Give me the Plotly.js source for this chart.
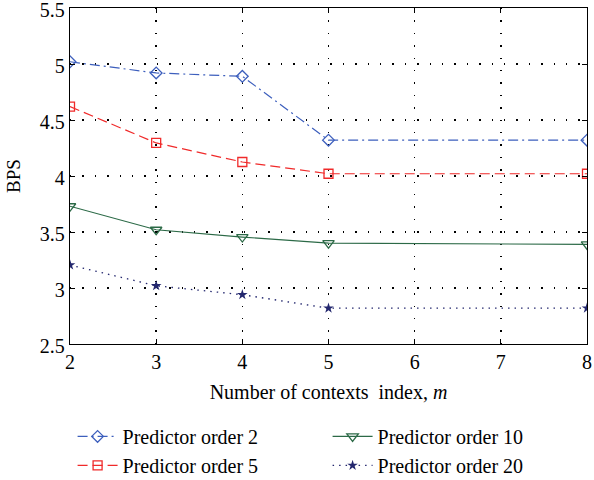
<!DOCTYPE html>
<html><head><meta charset="utf-8">
<script src="https://cdn.plot.ly/plotly-3.0.1.min.js"></script>
<style>body{margin:0;background:#fff}</style>
</head><body>
<div id="chart" style="width:594px;height:480px"></div>
<script>
const contexts = [2, 3, 4, 5, 8];
const order2 = [5.02, 4.92, 4.89, 4.32, 4.32];
const order5 = [4.62, 4.295, 4.125, 4.02, 4.02];
const order10 = [3.73, 3.52, 3.455, 3.40, 3.39];
const order20 = [3.205, 3.02, 2.94, 2.82, 2.82];
const names = ['Predictor order 2', 'Predictor order 5', 'Predictor order 10', 'Predictor order 20'];

const FONT = 'Liberation Serif, Times New Roman, serif';
const traces = [
  {x: contexts, y: order2, name: names[0], mode: 'lines+markers', legendrank: 1,
   line: {color: '#3d5fbd', width: 1.2, dash: '10px,4px,2px,4px'},
   marker: {symbol: 'diamond-open', size: 9, color: '#3d5fbd', line: {width: 1.3}}},
  {x: contexts, y: order5, name: names[1], mode: 'lines+markers', legendrank: 3,
   line: {color: '#f02a2a', width: 1.2, dash: '10px,5px'},
   marker: {symbol: 'square-open', size: 9, color: '#f02a2a', line: {width: 1.3}}},
  {x: contexts, y: order10, name: names[2], mode: 'lines+markers', legendrank: 2,
   line: {color: '#2c6a47', width: 1.2},
   marker: {symbol: 'triangle-down-open', size: 10, color: '#2c6a47', line: {width: 1.3}}},
  {x: contexts, y: order20, name: names[3], mode: 'lines+markers', legendrank: 4,
   line: {color: '#23276e', width: 1.3, dash: '1.5px,5px'},
   marker: {symbol: 'star', size: 8, color: '#23276e'}}
];

const axisCommon = {
  showline: true, linecolor: '#000', linewidth: 1.3, mirror: 'ticks',
  ticks: 'inside', ticklen: 5, tickcolor: '#000',
  showgrid: true, gridcolor: '#000', gridwidth: 1.4, griddash: '1.4px,11px',
  zeroline: false, ticklabeloverflow: 'allow',
  tickfont: {family: FONT, size: 20, color: '#000'}
};

const layout = {
  width: 594, height: 480,
  margin: {l: 70, r: 7, t: 8, b: 136, autoexpand: false},
  paper_bgcolor: '#fff', plot_bgcolor: '#fff',
  font: {family: FONT, color: '#000'},
  showlegend: true,
  xaxis: Object.assign({}, axisCommon, {
    range: [2, 8], dtick: 1, tick0: 2, automargin: false,
    title: {text: 'Number of contexts&nbsp; index, <i>m</i>', font: {family: FONT, size: 20}, standoff: 12}
  }),
  yaxis: Object.assign({}, axisCommon, {
    range: [2.5, 5.5], dtick: 0.5, tick0: 2.5, automargin: false, ticklabelshift: 2,
    title: {text: 'BPS', font: {family: FONT, size: 19}, standoff: 14}
  }),
  legend: {
    orientation: 'h', x: 0.005, xanchor: 'left', y: -0.217, yanchor: 'top',
    entrywidth: 200, entrywidthmode: 'pixels', itemwidth: 40,
    font: {family: FONT, size: 20, color: '#000'}, bgcolor: 'rgba(0,0,0,0)'
  }
};

Plotly.newPlot('chart', traces, layout, {displayModeBar: false, staticPlot: true});
</script>
</body></html>
